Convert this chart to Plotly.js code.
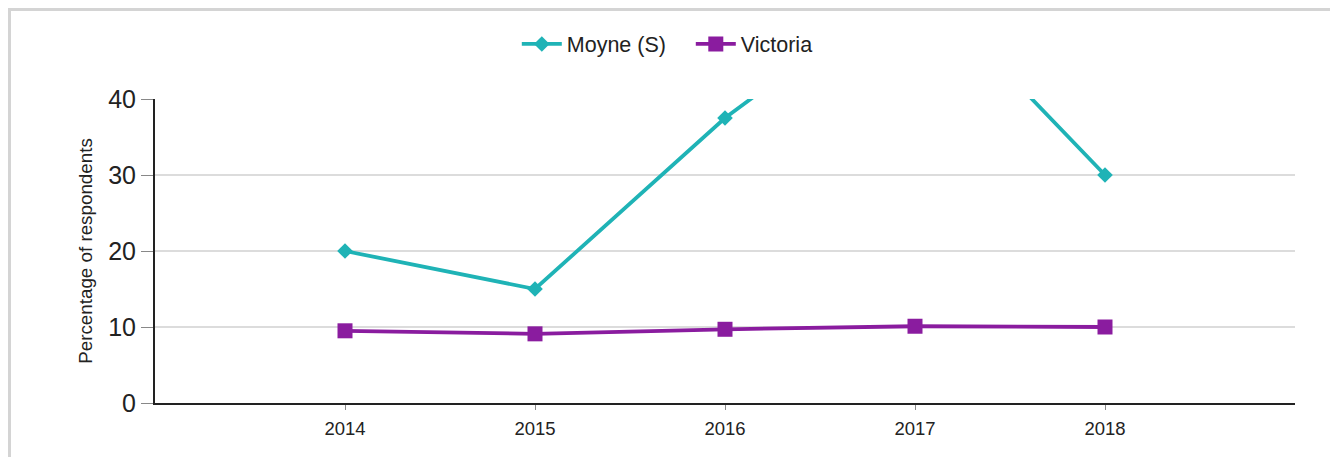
<!DOCTYPE html>
<html>
<head>
<meta charset="utf-8">
<script src="https://cdn.plot.ly/plotly-3.0.1.min.js"></script>
<style>
  html, body { margin: 0; padding: 0; background: #fff; }
  #wrap { position: relative; width: 1330px; height: 457px; overflow: hidden; }
  #chart { width: 1330px; height: 457px; }
  #frame { position: absolute; left: 8px; top: 8px; width: 1330px; height: 460px;
           border-left: 3px solid #d4d4d4; border-top: 3px solid #d4d4d4; pointer-events: none; }
</style>
</head>
<body>
<div id="wrap">
  <div id="chart"></div>
  <div id="frame"></div>
</div>
<script>
const years = [2014, 2015, 2016, 2017, 2018];
const moyne = [20, 15, 37.5, 56, 30];
const victoria = [9.5, 9.1, 9.7, 10.1, 10.0];
const yTicks = [0, 10, 20, 30, 40];

const traces = [
  {
    x: years, y: moyne, name: 'Moyne (S)', type: 'scatter', mode: 'lines+markers',
    line: { color: '#1fb3b6', width: 3.8 },
    marker: { symbol: 'diamond', size: 12, color: '#1fb3b6' },
    cliponaxis: true
  },
  {
    x: years, y: victoria, name: 'Victoria', type: 'scatter', mode: 'lines+markers',
    line: { color: '#8a1c9f', width: 3.8 },
    marker: { symbol: 'square', size: 15, color: '#8a1c9f' },
    cliponaxis: true
  }
];

const layout = {
  width: 1330, height: 457,
  margin: { l: 155, r: 35, t: 99, b: 54 },
  paper_bgcolor: '#ffffff', plot_bgcolor: '#ffffff',
  font: { family: 'Liberation Sans, Arial, sans-serif', color: '#222' },
  showlegend: true,
  legend: {
    orientation: 'h', x: 0.470, xanchor: 'center', y: 1.181, yanchor: 'middle',
    font: { size: 21.5, color: '#222' }, itemwidth: 40, tracegroupgap: 0,
    entrywidth: 119, entrywidthmode: 'pixels'
  },
  xaxis: {
    range: [2013, 2019], tickvals: years, ticktext: years.map(String),
    showgrid: false, zeroline: false,
    showline: true, linecolor: '#222', linewidth: 2,
    ticks: 'outside', ticklen: 5, tickcolor: '#888', tickwidth: 1,
    ticklabelstandoff: 3,
    tickfont: { size: 18.5, color: '#222' }, fixedrange: true
  },
  yaxis: {
    range: [0, 40], tickvals: yTicks, ticktext: yTicks.map(String),
    showgrid: true, gridcolor: '#dcdcdc', gridwidth: 2, zeroline: false,
    showline: true, linecolor: '#222', linewidth: 2,
    ticks: 'outside', ticklen: 12, tickcolor: '#888', tickwidth: 1,
    tickfont: { size: 25, color: '#222' },
    title: { text: 'Percentage of respondents', font: { size: 18.8, color: '#222' }, standoff: 11 },
    fixedrange: true
  }
};

Plotly.newPlot('chart', traces, layout, { displayModeBar: false, staticPlot: true });
</script>
</body>
</html>
